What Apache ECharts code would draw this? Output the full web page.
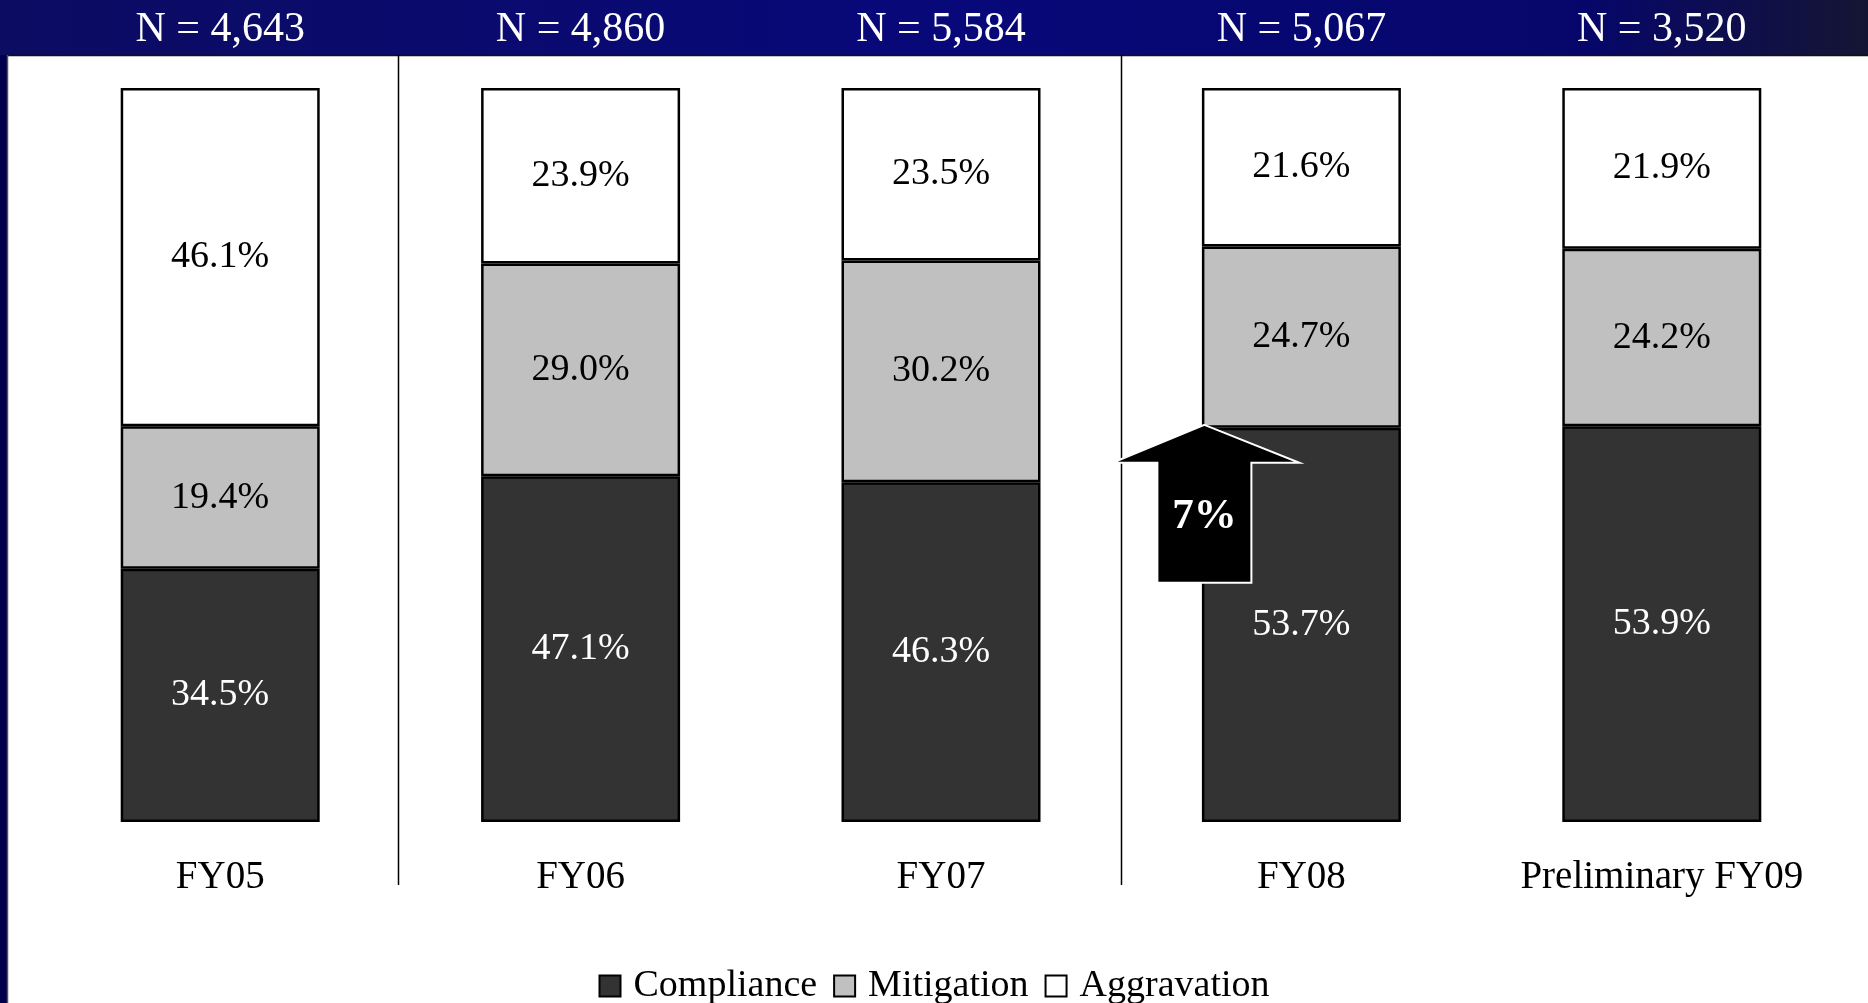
<!DOCTYPE html>
<html>
<head>
<meta charset="utf-8">
<script src="https://cdn.jsdelivr.net/npm/echarts@6/dist/echarts.min.js"></script>
<style>
  html, body { margin: 0; padding: 0; background: #fff; }
  #chart { width: 1868px; height: 1003px; }
</style>
</head>
<body>
<div id="chart"></div>
<script>
const categories = ['FY05', 'FY06', 'FY07', 'FY08', 'Preliminary FY09']
const nLabels = ['N = 4,643', 'N = 4,860', 'N = 5,584', 'N = 5,067', 'N = 3,520']
const compliance = [34.5, 47.1, 46.3, 53.7, 53.9]
const mitigation = [19.4, 29.0, 30.2, 24.7, 24.2]
const aggravation = [46.1, 23.9, 23.5, 21.6, 21.9]
// 7% increase annotation on FY08
const arrowText = '7%'
const arrowAt = ['FY08', 53.7]

const serif = '"Liberation Serif", "DejaVu Serif", serif'
const chart = echarts.init(document.getElementById('chart'))

function seg(name, data, color, textColor) {
  return {
    name,
    type: 'bar',
    stack: 'all',
    data,
    barWidth: 199,
    itemStyle: { color, borderColor: '#000', borderWidth: 2.5 },
    label: {
      show: true,
      position: 'inside',
      formatter: (p) => p.value.toFixed(1) + '%',
      color: textColor,
      fontFamily: serif,
      fontSize: 38,
    },
    emphasis: { disabled: true },
  }
}

chart.setOption({
  backgroundColor: '#fff',
  animation: false,
  grid: { left: 40, right: 26, top: 88, bottom: 181 },
  legend: {
    top: 962,
    left: 'center',
    itemWidth: 21,
    itemHeight: 21,
    itemGap: 16,
    icon: 'rect',
    textStyle: { fontFamily: serif, fontSize: 38, color: '#000', padding: [0, 0, 0, 8] },
    data: ['Compliance', 'Mitigation', 'Aggravation'],
  },
  xAxis: [
    {
      type: 'category',
      data: categories,
      axisLine: { show: false },
      axisTick: { show: false },
      axisLabel: { interval: 0, hideOverlap: false, margin: 36, fontFamily: serif, fontSize: 39, color: '#000' },
    },
    {
      type: 'category',
      position: 'top',
      data: nLabels,
      axisLine: { show: false },
      axisTick: { show: false },
      axisLabel: { interval: 0, hideOverlap: false, margin: 37, fontFamily: serif, fontSize: 42, color: '#fff' },
    },
  ],
  yAxis: { type: 'value', min: 0, max: 100, show: false },
  series: [
    seg('Compliance', compliance, '#333333', '#fff'),
    seg('Mitigation', mitigation, '#c0c0c0', '#000'),
    seg('Aggravation', aggravation, '#ffffff', '#000'),
  ],
})

// separators between category groups and the arrow, placed from the axis scales
const pFY05 = chart.convertToPixel({ xAxisIndex: 0 }, 'FY05')
const pFY06 = chart.convertToPixel({ xAxisIndex: 0 }, 'FY06')
const pFY07 = chart.convertToPixel({ xAxisIndex: 0 }, 'FY07')
const pFY08 = chart.convertToPixel({ xAxisIndex: 0 }, 'FY08')
const sep1 = Math.round((pFY05 + pFY06) / 2) - 1.5
const sep2 = Math.round((pFY07 + pFY08) / 2) + 0.5
const tip = chart.convertToPixel({ gridIndex: 0 }, arrowAt)
const tx = tip[0] - 97
const ty = tip[1] - 3

chart.setOption({
  graphic: [
    {
      type: 'rect', z: -1, silent: true,
      shape: { x: 0, y: 0, width: 1868, height: 55 },
      style: {
        fill: new echarts.graphic.LinearGradient(0, 0, 1, 0, [
          { offset: 0, color: '#0c0c62' },
          { offset: 0.5, color: '#08087a' },
          { offset: 0.85, color: '#06066a' },
          { offset: 1, color: '#151533' },
        ]),
      },
    },
    {
      type: 'rect', z: -1, silent: true,
      shape: { x: 0, y: 55, width: 7, height: 948 },
      style: { fill: '#00004c' },
    },
    {
      type: 'line', silent: true,
      shape: { x1: 7, y1: 55.5, x2: 1868, y2: 55.5 },
      style: { stroke: '#111', lineWidth: 1.5 },
    },
    {
      type: 'line', silent: true,
      shape: { x1: 7.5, y1: 55, x2: 7.5, y2: 1003 },
      style: { stroke: '#555', lineWidth: 1.5 },
    },
    {
      type: 'line', silent: true,
      shape: { x1: sep1, y1: 55, x2: sep1, y2: 885 },
      style: { stroke: '#000', lineWidth: 1.5 },
    },
    {
      type: 'line', silent: true,
      shape: { x1: sep2, y1: 55, x2: sep2, y2: 885 },
      style: { stroke: '#000', lineWidth: 1.5 },
    },
    {
      type: 'polygon', silent: true, z: 100,
      shape: {
        points: [
          [tx, ty],
          [tx + 95, ty + 38],
          [tx + 47, ty + 38],
          [tx + 47, ty + 158],
          [tx - 47, ty + 158],
          [tx - 47, ty + 38],
          [tx - 92, ty + 38],
        ],
      },
      style: { fill: '#000', stroke: '#fff', lineWidth: 2 },
    },
    {
      type: 'text', silent: true, z: 101,
      x: tx, y: ty + 92,
      style: {
        text: arrowText,
        fill: '#fff',
        font: 'bold 43px ' + serif,
        align: 'center',
        verticalAlign: 'middle',
      },
    },
  ],
})
</script>
</body>
</html>
